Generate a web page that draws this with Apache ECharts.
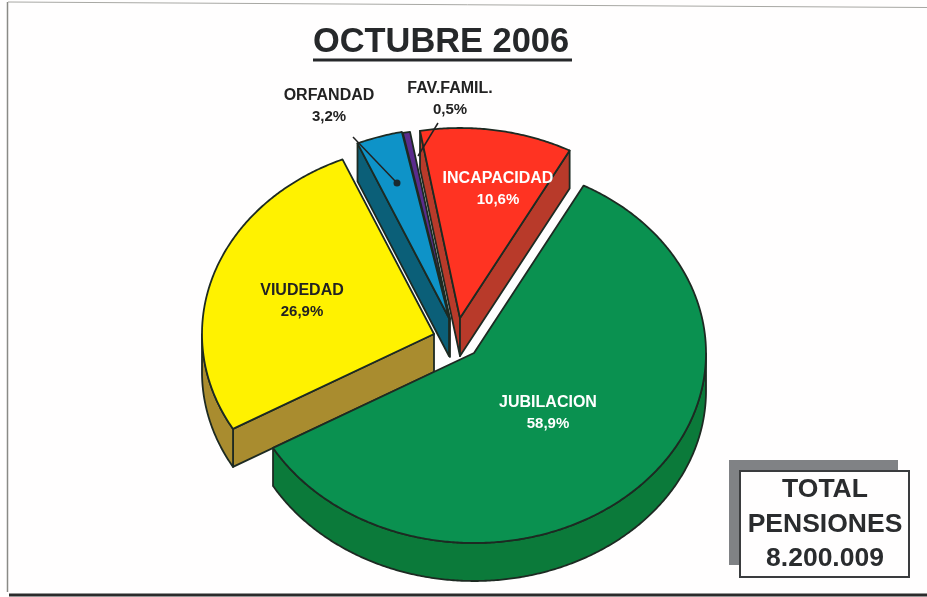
<!DOCTYPE html>
<html>
<head>
<meta charset="utf-8">
<style>html,body{margin:0;padding:0;background:#fff}#c{width:927px;height:597px}</style>
<script src="https://cdn.jsdelivr.net/npm/echarts@6/dist/echarts.min.js"></script>
</head>
<body>
<div id="c"></div>
<script>
// ---- data, clockwise from the JUBILACION slice ----
const categories = ['JUBILACION', 'VIUDEDAD', 'ORFANDAD', 'FAV.FAMIL.', 'INCAPACIDAD'];
const values = [58.9, 26.9, 3.2, 0.5, 10.6];
const totalLines = ['TOTAL', 'PENSIONES', '8.200.009'];
const titleText = 'OCTUBRE 2006';

// ---- presentation ----
const FONT = '"Liberation Sans", Arial, sans-serif';
const RX = 232, RY = 190, DEPTH = 38, START_DEG = 61.8;
const centers = [[474, 353], [434, 334], [449, 318], [450, 319], [460, 318]];
const topColors = ['#0A9150', '#FFF200', '#0E93C8', '#5A2C8C', '#FF3322'];
const sideColors = ['#0B7A3A', '#A98C2F', '#0B5F78', '#38324A', '#B83A2A'];
const labelColors = ['#fff', '#222', '#222', '#222', '#fff'];
const labelAnchors = [[548, 402], [302, 290], [329, 95], [450, 88], [498, 178]];
const leaders = { 2: [[353, 137], [397, 183]], 3: [[438, 123], [418, 156]] };
const drawRank = [4, 3, 2, 1, 0].reduce((m, d, i) => (m[d] = i, m), {});
const STROKE = '#1d2a22';

const sum = values.reduce((a, b) => a + b, 0);
const rad = d => d * Math.PI / 180;

function renderSlice(params, api) {
  const i = params.dataIndex;
  const value = api.value(0);
  let before = 0;
  for (let k = 0; k < i; k++) before += values[k];
  const a0 = START_DEG - before / sum * 360;
  const a1 = a0 - value / sum * 360;
  const [cx, cy] = centers[i];
  const pt = (deg, dz) => [cx + RX * Math.cos(rad(deg)), cy - RY * Math.sin(rad(deg)) + (dz || 0)];
  const base = drawRank[i] * 10;
  const style = (fill) => ({ fill, stroke: STROKE, lineWidth: 1.8, lineJoin: 'round' });
  const children = [];
  const poly = (points, fill, z) => children.push({ type: 'polygon', shape: { points }, style: style(fill), z2: base + z });
  const apex = [cx, cy], apexLow = [cx, cy + DEPTH];

  // radial walls that face the viewer
  if (Math.cos(rad(a0)) < 0) poly([apex, pt(a0), pt(a0, DEPTH), apexLow], sideColors[i], 1);
  if (Math.cos(rad(a1)) > 0) poly([apex, pt(a1), pt(a1, DEPTH), apexLow], sideColors[i], 1);

  // front rim: the part of the arc below the ellipse's horizontal axis
  const rimTop = [], rimLow = [];
  const steps = Math.max(2, Math.ceil((a0 - a1) * 2));
  for (let s = 0; s <= steps; s++) {
    const d = a0 + (a1 - a0) * s / steps;
    if (Math.sin(rad(d)) <= 0.001) { rimTop.push(pt(d)); rimLow.unshift(pt(d, DEPTH)); }
  }
  if (rimTop.length > 1) poly(rimTop.concat(rimLow), sideColors[i], 2);

  // top face
  const top = [apex];
  for (let s = 0; s <= steps; s++) top.push(pt(a0 + (a1 - a0) * s / steps));
  poly(top, topColors[i], 3);

  // label
  const [lx, ly] = labelAnchors[i];
  const pctText = value.toFixed(1).replace('.', ',') + '%';
  [categories[i], pctText].forEach((t, n) => children.push({
    type: 'text', z2: 200,
    style: { x: lx, y: ly + 1 + n * 20.5, text: t, fill: labelColors[i], align: 'center', verticalAlign: 'middle',
             font: 'bold ' + (n ? 15 : 16) + 'px ' + FONT }
  }));

  // leader
  if (leaders[i]) {
    const [p, q] = leaders[i];
    children.push({ type: 'line', z2: 190, shape: { x1: p[0], y1: p[1], x2: q[0], y2: q[1] },
      style: { stroke: '#222', lineWidth: 1.5 } });
    if (i === 2) children.push({ type: 'circle', z2: 190, shape: { cx: q[0], cy: q[1], r: 3.5 }, style: { fill: '#1a2a30' } });
  }
  return { type: 'group', children };
}

const frame = (x1, y1, x2, y2, stroke, lineWidth) => ({
  type: 'line', shape: { x1, y1, x2, y2 }, style: { stroke, lineWidth }, silent: true
});

const chart = echarts.init(document.getElementById('c'), null, { renderer: 'canvas' });
chart.setOption({
  animation: false,
  backgroundColor: '#fffefe',
  series: [{
    type: 'custom',
    coordinateSystem: 'none',
    silent: true,
    data: values.map((v, i) => ({ name: categories[i], value: [v] })),
    renderItem: renderSlice
  }],
  graphic: [
    frame(7.5, 2, 7.5, 592, '#8a8a86', 1.5),
    frame(8, 2, 927, 7.5, '#a8a8a4', 1),
    frame(9, 595, 927, 595, '#2b2b2b', 3),
    { type: 'text', style: { x: 441, y: 43, text: titleText, align: 'center', verticalAlign: 'middle',
        font: 'bold 34.4px ' + FONT, fill: '#26282a' } },
    { type: 'rect', shape: { x: 313, y: 58.5, width: 259, height: 3 }, style: { fill: '#26282a' } },
    { type: 'rect', shape: { x: 729, y: 460, width: 169, height: 105 }, style: { fill: '#808285' } },
    { type: 'rect', shape: { x: 740, y: 471, width: 169, height: 106 }, style: { fill: '#fffefe', stroke: '#3a3c3e', lineWidth: 2 } },
    ...totalLines.map((t, n) => ({ type: 'text', z: 5, style: { x: 825, y: 490 + n * 34.5, text: t, align: 'center', verticalAlign: 'middle',
        font: 'bold 26.5px ' + FONT, fill: '#2a2c2e' } }))
  ]
});
</script>
</body>
</html>
